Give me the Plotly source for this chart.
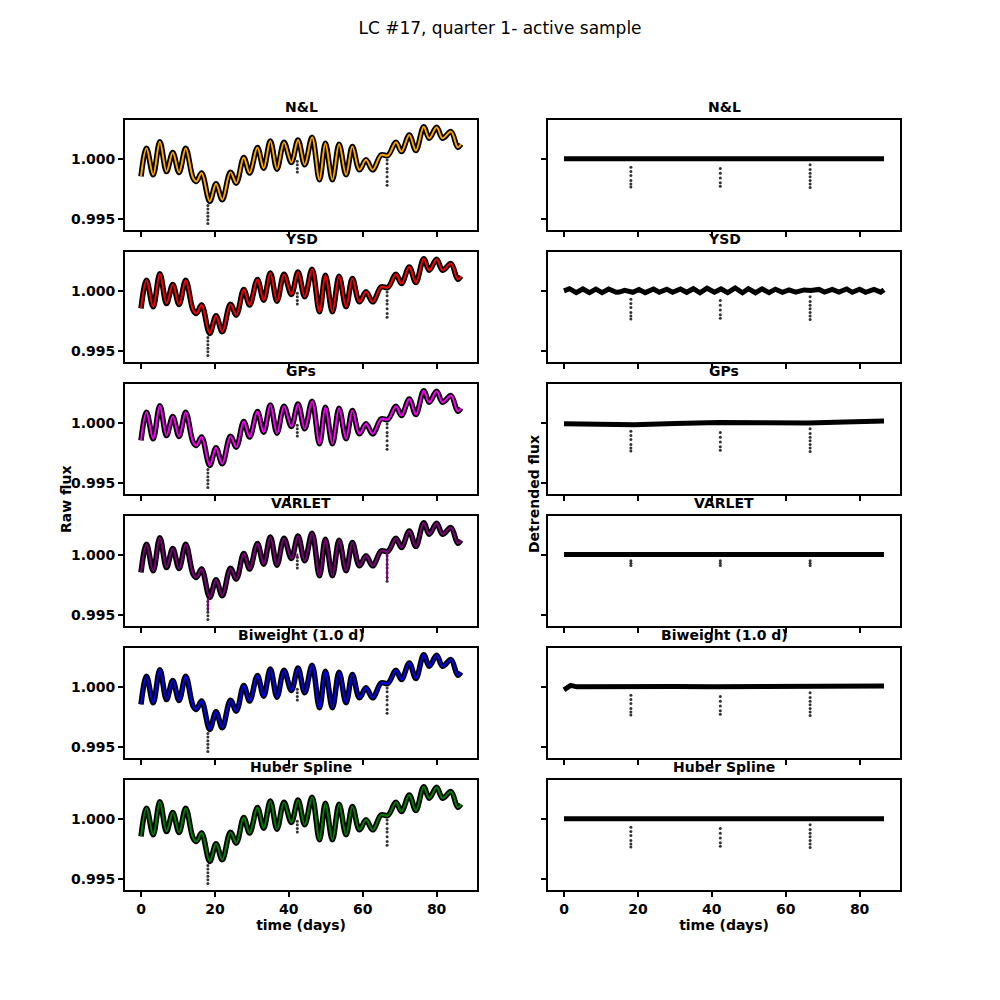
"""LC #17, quarter 1 active sample: raw light curve with each detrending model
(left column) and the detrended flux it leaves behind (right column)."""
import plotly.graph_objects as go
from plotly.subplots import make_subplots

# ---------------- data ----------------
methods = ["N&L", "YSD", "GPs", "VARLET", "Biweight (1.0 d)", "Huber Spline"]
colors = ["orange", "red", "magenta", "purple", "blue", "green"]

# raw flux: turning points of the stellar variability
raw_t = [0.0, 1.5, 3.3, 5.1, 6.9, 8.6, 10.3, 12.1, 14.1, 15.0, 16.4, 18.6, 20.3, 22.0,
         24.2, 25.8, 27.8, 29.4, 31.5, 33.2, 35.0, 36.8, 38.7, 40.7, 42.5, 44.3, 46.3,
         48.3, 49.9, 51.8, 53.6, 55.5, 57.2, 59.1, 60.9, 62.7, 65.0, 66.8, 69.0, 70.5,
         72.6, 74.4, 76.5, 78.0, 80.0, 81.6, 83.9, 85.7, 86.6]
raw_f = [0.99853, 1.00089, 0.99867, 1.00144, 0.99894, 1.00053, 0.99886, 1.00089,
         0.99839, 0.99811, 0.99881, 0.99644, 0.99792, 0.99658, 0.99889, 0.99797,
         1.00011, 0.99881, 1.00094, 0.99922, 1.00150, 0.99914, 1.00139, 0.99969,
         1.00158, 0.99950, 1.00180, 0.99825, 1.00130, 0.99825, 1.00122, 0.99867,
         1.00103, 0.99908, 0.99992, 0.99908, 1.00033, 1.00028, 1.00139, 1.00061,
         1.00200, 1.00069, 1.00269, 1.00172, 1.00264, 1.00172, 1.00228, 1.00097,
         1.00122]

# in-transit points (three transits) in the raw light curve
raw_dip_t = [18.1] * 6 + [42.3] * 4 + [66.6] * 7
raw_dip_f = [0.9961, 0.9958, 0.9955, 0.9952, 0.9949, 0.9946,
             0.9998, 0.9995, 0.9992, 0.9989,
             0.9999, 0.9996, 0.9992, 0.9989, 0.9985, 0.9981, 0.9978]

# VARLET model follows the transits down
varlet_dip_t = [18.1, 18.1, None, 42.3, 42.3, None, 66.6, 66.6]
varlet_dip_f = [0.9964, 0.9953, None, 1.0001, 0.9997, None, 1.0003, 0.9979]

# detrended flux per method
flat_t = [0.0, 86.6]
nl_det = [1.0, 1.0]
ysd_det = [1.0, 1.00018, 0.99985, 1.00016, 0.99985, 1.00014, 0.99985, 1.00016, 0.99988,
           0.9999, 1.00004, 0.99988, 1.00012, 0.99985, 1.00016, 0.99988, 1.00014,
           0.99988, 1.00016, 0.99988, 1.00018, 0.99984, 1.00022, 0.99988, 1.00016,
           0.99985, 1.00024, 0.99984, 1.00018, 0.99984, 1.00016, 0.99985, 1.00014,
           0.99988, 1.00008, 0.9999, 1.00008, 1.00004, 1.00012, 0.9999, 1.00012,
           0.9999, 1.00016, 0.99988, 1.00014, 0.99988, 1.00012, 0.9999, 1.0001]
gp_t = [0.0, 10.0, 19.0, 30.0, 42.0, 55.0, 66.0, 76.0, 86.6]
gp_det = [0.99993, 0.9999, 0.99984, 0.99995, 1.00004, 1.0, 0.99998, 1.00008, 1.00016]
varlet_det = [1.00002, 1.00002]
bw_t = [0.0, 0.8, 1.8, 3.5, 10.0, 20.0, 30.0, 40.0, 50.0, 60.0, 70.0, 80.0, 86.6]
bw_det = [0.99975, 0.99995, 1.00012, 1.0, 1.00002, 0.99998, 1.00002, 1.0, 1.00002,
          0.99998, 1.0, 1.0, 1.00008]
huber_det = [1.0, 1.0]
det_t = [flat_t, raw_t, gp_t, flat_t, bw_t, flat_t]
det_f = [nl_det, ysd_det, gp_det, varlet_det, bw_det, huber_det]

det_dip_t = [18.1] * 6 + [42.3] * 5 + [66.6] * 7
det_dip_f = [0.9993, 0.99895, 0.9986, 0.9982, 0.9979, 0.99765,
             0.9992, 0.9988, 0.9984, 0.9980, 0.9977,
             0.9995, 0.9991, 0.9988, 0.9985, 0.9982, 0.9979, 0.9976]
varlet_det_dip_t = [18.1] * 3 + [42.3] * 3 + [66.6] * 3
varlet_det_dip_f = [0.9995, 0.9993, 0.9991] * 3

# ---------------- figure ----------------
FONT = "DejaVu Sans"
OFF = 8          # page body margin, in px
fig = make_subplots(rows=6, cols=2)


def px(x):
    return (x - OFF) / 1000


def py(y):
    return 1 - (y - OFF) / 1000


col_dom = [(px(125), px(477)), (px(548), px(900))]
row_top = [120, 252, 384, 516, 648, 780]   # px from top, panels 110 px tall
bold = dict(family=FONT, size=14, color="black", weight="bold")

for r, (name, col) in enumerate(zip(methods, colors)):
    # left: raw + model
    fig.add_trace(go.Scatter(x=raw_t, y=raw_f, mode="lines", line_shape="spline",
                             line=dict(color="black", width=5.5)), row=r + 1, col=1)
    fig.add_trace(go.Scatter(x=raw_dip_t, y=raw_dip_f, mode="markers",
                             marker=dict(color="#333", size=3)), row=r + 1, col=1)
    fig.add_trace(go.Scatter(x=raw_t, y=raw_f, mode="lines", line_shape="spline",
                             line=dict(color=col, width=2)), row=r + 1, col=1)
    if name == "VARLET":
        fig.add_trace(go.Scatter(x=varlet_dip_t, y=varlet_dip_f, mode="lines",
                                 line=dict(color=col, width=2)), row=r + 1, col=1)
    # right: detrended
    fig.add_trace(go.Scatter(x=det_t[r], y=det_f[r], mode="lines",
                             line=dict(color="black", width=5)), row=r + 1, col=2)
    dt, df = (varlet_det_dip_t, varlet_det_dip_f) if name == "VARLET" else (det_dip_t, det_dip_f)
    fig.add_trace(go.Scatter(x=dt, y=df, mode="markers",
                             marker=dict(color="#333", size=3)), row=r + 1, col=2)

    for c in range(2):
        k = 2 * r + c + 1
        sfx = "" if k == 1 else str(k)
        top = py(row_top[r])
        fig.layout["xaxis" + sfx].update(
            domain=col_dom[c], range=[-4.33, 90.93], tickvals=[0, 20, 40, 60, 80],
            showticklabels=(r == 5), showgrid=False, zeroline=False,
            showline=True, mirror=True, linecolor="black", linewidth=2,
            ticks="outside", ticklen=5, tickwidth=1.5, tickcolor="black",
            tickfont=bold,
            title=dict(text="time (days)" if r == 5 else "", font=bold, standoff=4))
        fig.layout["yaxis" + sfx].update(
            domain=[top - 0.110, top], range=[0.99405, 1.00325],
            tickvals=[0.995, 1.0], ticktext=["0.995", "1.000"],
            showticklabels=(c == 0), showgrid=False, zeroline=False,
            showline=True, mirror=True, linecolor="black", linewidth=2,
            ticks="outside", ticklen=5, tickwidth=1.5, tickcolor="black",
            tickfont=bold)
        fig.add_annotation(x=sum(col_dom[c]) / 2, y=top + 0.003, xref="paper", yref="paper",
                           text=name, showarrow=False, xanchor="center", yanchor="bottom",
                           font=bold)

fig.add_annotation(x=px(66), y=py(500), xref="paper", yref="paper", text="Raw flux",
                   textangle=-90, showarrow=False, xanchor="center", yanchor="middle",
                   font=bold)
fig.add_annotation(x=px(534), y=py(494), xref="paper", yref="paper", text="Detrended flux",
                   textangle=-90, showarrow=False, xanchor="center", yanchor="middle",
                   font=bold)

fig.update_layout(
    title=dict(text="LC #17, quarter 1- active sample", x=px(500), xanchor="center",
               y=py(28), yanchor="middle",
               font=dict(family=FONT, size=17, color="black")),
    width=1000, height=1000, margin=dict(l=0, r=0, t=0, b=0),
    showlegend=False, plot_bgcolor="white", paper_bgcolor="white")

fig.write_html("out.html")
